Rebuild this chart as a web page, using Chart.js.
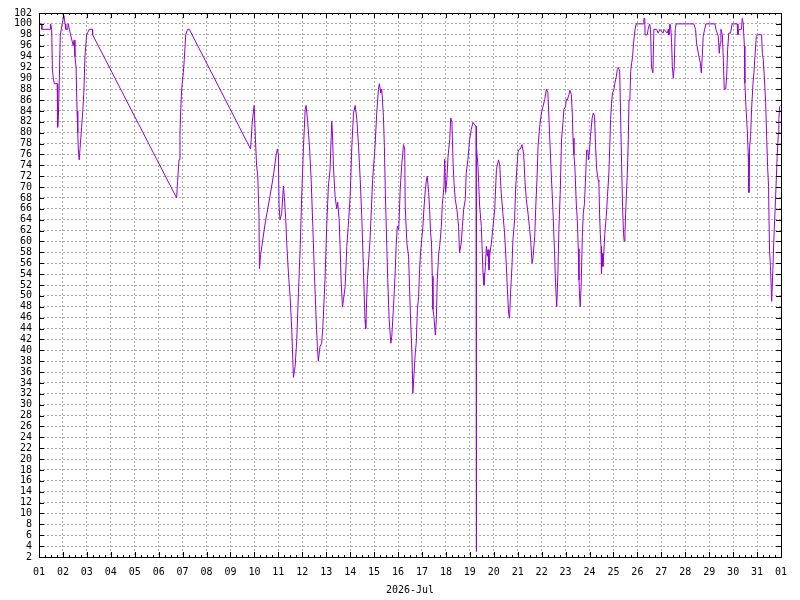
<!DOCTYPE html>
<html>
<head>
<meta charset="utf-8">
<title>2026-Jul</title>
<script src="https://cdn.jsdelivr.net/npm/chart.js@4/dist/chart.umd.min.js"></script>
<style>
  html, body { margin: 0; padding: 0; background: #fff; }
  #chart { display: block; }
</style>
</head>
<body>
<canvas id="chart" width="800" height="600"></canvas>
<script>
// time in days of the month (1 = Jul 01 00:00, 32 = Aug 01 00:00)
const days = [
  1.00, 1.11, 1.12, 1.46, 1.47, 1.50, 1.53, 1.56, 1.60, 1.64, 1.76, 1.78, 1.81, 1.85, 1.89, 1.97,
  2.04, 2.09, 2.12, 2.20, 2.22, 2.27, 2.32, 2.43, 2.47, 2.50, 2.55, 2.59, 2.62, 2.64, 2.68, 2.73,
  2.78, 2.83, 2.88, 2.92, 2.99, 3.10, 3.23, 3.24,
  6.75, 6.79, 6.85, 6.89, 6.92, 6.96, 7.03, 7.07, 7.13, 7.21, 7.28,
  9.84, 9.91, 9.99, 10.04, 10.09, 10.14, 10.19, 10.21,
  10.26, 10.33, 10.45, 10.65, 10.79, 10.91, 10.96, 11.00, 11.03, 11.07, 11.14, 11.21, 11.25, 11.31,
  11.35, 11.42, 11.49, 11.56, 11.63, 11.70, 11.77, 11.84, 11.91, 11.98, 12.05, 12.12, 12.16, 12.23,
  12.30, 12.37, 12.44, 12.51, 12.58, 12.63, 12.67, 12.74, 12.81, 12.86, 12.95, 13.02, 13.09, 13.16,
  13.23, 13.26, 13.30, 13.37, 13.44, 13.48, 13.54, 13.58, 13.62, 13.68, 13.72, 13.79, 13.86, 13.93,
  14.00, 14.07, 14.14, 14.21, 14.28, 14.35, 14.42, 14.49, 14.55, 14.62, 14.65, 14.72, 14.83, 14.94,
  15.04, 15.11, 15.18, 15.22, 15.28, 15.32, 15.39, 15.43, 15.47, 15.53, 15.57, 15.63, 15.70, 15.74,
  15.81, 15.88, 15.92, 15.97, 16.03, 16.09, 16.16, 16.23,
  16.28, 16.30, 16.37, 16.44, 16.48, 16.53, 16.58, 16.62, 16.67, 16.72, 16.76, 16.81, 16.86, 16.90,
  16.94, 17.00, 17.04, 17.08, 17.14, 17.18, 17.22, 17.28, 17.32, 17.36, 17.40, 17.43, 17.46, 17.50,
  17.56, 17.60, 17.64, 17.70, 17.74, 17.81, 17.85, 17.92, 17.95, 17.99, 18.04, 18.09, 18.16, 18.20,
  18.25, 18.30, 18.34, 18.39, 18.46, 18.53, 18.57, 18.64, 18.69, 18.74, 18.81, 18.85, 18.92, 18.99,
  19.06, 19.13, 19.24, 19.26, 19.27, 19.28,
  19.34, 19.41, 19.48, 19.55, 19.59, 19.65, 19.69, 19.73, 19.76, 19.80, 19.83, 19.90, 19.97, 20.04,
  20.11, 20.15, 20.20, 20.25, 20.31, 20.38, 20.45, 20.52, 20.57, 20.62, 20.66, 20.70, 20.76, 20.80,
  20.87, 20.91, 20.97, 21.01, 21.05, 21.11, 21.18, 21.25, 21.30, 21.36, 21.43, 21.50, 21.54, 21.60,
  21.64, 21.71, 21.75, 21.81, 21.85, 21.92, 21.99, 22.06, 22.13, 22.20, 22.26, 22.33, 22.40, 22.47,
  22.54, 22.58, 22.63, 22.68, 22.72, 22.78,
  22.83, 22.89, 22.93, 23.00, 23.03, 23.07, 23.14, 23.18, 23.24, 23.28, 23.31, 23.35, 23.39, 23.45,
  23.49, 23.53, 23.56, 23.58, 23.61, 23.65, 23.70, 23.74, 23.79, 23.84, 23.88, 23.93, 23.96, 24.00,
  24.04, 24.11, 24.16, 24.21, 24.25, 24.30, 24.34, 24.36, 24.39, 24.42, 24.45, 24.48, 24.50, 24.53,
  24.56, 24.60, 24.64, 24.70, 24.75, 24.81, 24.85, 24.88, 24.92, 24.96, 25.02, 25.06, 25.12, 25.16,
  25.20, 25.26, 25.30, 25.34, 25.38, 25.42, 25.45, 25.48, 25.52, 25.58, 25.62, 25.65, 25.69, 25.72,
  25.76, 25.80, 25.84, 25.90, 25.95, 26.25, 26.27, 26.31, 26.32, 26.41, 26.45, 26.51, 26.55, 26.59,
  26.65, 26.69, 26.80, 26.87, 26.94, 27.07, 27.11, 27.25, 27.29, 27.32, 27.36, 27.40, 27.43, 27.46,
  27.50, 27.54, 27.58, 27.62, 28.36, 28.43, 28.47, 28.53, 28.57, 28.63, 28.67, 28.71, 28.75, 28.81,
  28.86, 29.24, 29.28, 29.38, 29.42, 29.46, 29.49, 29.55, 29.60, 29.63, 29.69, 29.73, 29.77, 29.82,
  29.89, 29.96, 30.17, 30.20, 30.24, 30.35, 30.38, 30.42, 30.47, 30.49, 30.55, 30.59, 30.63, 30.66,
  30.69, 30.73, 30.77, 30.83, 30.87, 30.91, 30.97, 31.02, 31.19, 31.22, 31.26, 31.31, 31.36, 31.40,
  31.44, 31.48, 31.52, 31.56, 31.61, 31.66, 31.70, 31.77, 31.84, 31.89, 31.91, 31.94, 31.98
];

const values = [
  100, 100, 99, 99, 100, 100, 99, 91.5, 90, 89, 89, 81, 83, 90, 98, 100,
  101.5, 100, 99, 99, 100, 99, 98, 96, 97, 94, 92, 84, 80, 77, 75, 78,
  81, 84, 88, 94, 98, 99, 99, 98,
  68, 71, 75, 80, 84, 88, 91, 93.5, 98, 99, 99,
  77, 82, 85, 79, 74, 72, 65, 55,
  57.6, 59.7, 63.4, 68.3, 72, 76, 77, 76, 66.5, 64, 65.2, 70.2, 68.3, 64,
  59.7, 54.2, 49.9, 43.8, 35, 37, 42, 50.6, 58.5, 68.9, 77.5, 84.3, 85, 81.8,
  77.5, 71.4, 62.8, 53.6, 45.6, 40.7, 38, 40.7, 41.3, 44.4, 53, 62.8, 70.2, 73.2,
  82.1, 80, 73.9, 68.3, 66, 67.2, 64, 59.1, 53, 48, 49.3, 51.7, 59.1, 63.4,
  68.3, 77.5, 83.6, 85, 82.4, 77.5, 71.4, 64, 55.4, 45.6, 44, 53, 60.3, 71.4,
  77.5, 83.6, 87.9, 89, 87.3, 88, 83, 77.5, 68.9, 59.1, 53, 45.6, 41.3, 42.6,
  48, 54.2, 59.1, 62.8, 62.2, 69.5, 74.4, 77.8,
  77, 66.5, 59.7, 57.3, 51.7, 45, 39.5, 32.1, 35.8, 39.5, 41.3, 47.5, 49.9, 54.8,
  57.9, 60.9, 62.8, 65.9, 69.5, 71.1, 72, 69, 65.9, 61.6, 59.7, 53.6, 47.5, 46.2,
  42.8, 45.6, 53, 57.9, 59.1, 62.8, 66.8, 70.2, 75.1, 69, 71.4, 75.7, 78.7, 82.7,
  82, 74.4, 70.8, 67.7, 65.9, 62.8, 57.9, 59.7, 62.8, 65.9, 67.7, 72.6, 75.1, 78.7,
  80.6, 81.9, 81.2, 81.2, 3, 77.5,
  73.8, 66.5, 62.8, 54.2, 52, 55.4, 59.1, 57.3, 58.5, 54.8, 57.5, 59.7, 62.8, 65.9,
  73.2, 74.1, 75, 74, 69, 65.2, 61.6, 56, 51.1, 46.8, 45.9, 50.5, 55.4, 60.3,
  64, 69.5, 73.8, 76.3, 76.9, 77, 77.8, 76, 71.4, 67.7, 65.2, 62.2, 60.3, 56,
  57, 60.9, 65.9, 72, 77.5, 81.2, 83.6, 84.9, 86.1, 88, 87.4, 80, 72.6, 65.9,
  57.9, 52.4, 48, 54.2, 62.2, 69.5,
  78.7, 81.8, 84.3, 84.8, 86.2, 86, 87, 87.8, 87, 83.6, 79, 75.9, 73.5, 66.7,
  64, 58.7, 52.9, 50.5, 48, 51.7, 60.9, 65.2, 67, 72.2, 76.8, 76.8, 75, 76.8,
  79.3, 82.7, 83.6, 83, 77.8, 73.2, 72, 71.3, 71, 65.2, 61.5, 59.1, 54.1, 57.8,
  55.4, 58.1, 61.5, 64.6, 68.3, 72.6, 78.1, 82.4, 85.4, 87.3, 87.9, 89.1, 90.3, 91.6,
  92, 91.3, 83, 74.4, 66.4, 61.5, 60, 61.5, 66.4, 72.6, 78.7, 86, 86.7, 91.3,
  92.8, 94, 96.5, 98.9, 100, 100, 101, 101, 98, 98, 99, 100, 99, 92,
  91, 99, 99, 98.3, 99, 98.3, 99, 98.3, 99, 98, 100, 99, 96.5, 92.2,
  90, 92, 99, 100, 100, 99, 96.5, 95, 94, 92.8, 91, 94, 97.7, 99,
  100, 100, 99, 97.7, 94.6, 96.5, 99, 98, 92.2, 88, 88, 90.3, 95.3, 98.3,
  98.3, 100, 100, 98, 99, 99, 101, 100.2, 95.9, 89.1, 83.6, 80.5, 76.2, 69,
  77.5, 79.3, 84.2, 89.1, 91, 94, 97.7, 98, 98, 94.6, 93.4, 89.7, 85.4, 79.3,
  73.8, 70.1, 58.4, 55.4, 49, 54.8, 60.3, 67.6, 75.6, 79.9, 82.4, 84.8, 85
];

const dayLabels = ['01','02','03','04','05','06','07','08','09','10','11','12','13','14','15','16',
  '17','18','19','20','21','22','23','24','25','26','27','28','29','30','31','01'];
const monthLabel = '2026-Jul';

const font = { family: '"DejaVu Sans Mono", monospace', size: 10 };

// frame and small inside ticks, placed through the scales
const frameTicks = {
  id: 'frameTicks',
  afterDatasetsDraw(chart) {
    const { ctx, chartArea: a, scales: { x, y } } = chart;
    ctx.save();
    ctx.strokeStyle = '#000';
    ctx.lineWidth = 1;
    ctx.beginPath();
    for (let v = 2; v <= 102; v += 2) {
      const py = Math.round(y.getPixelForValue(v)) + 0.5;
      ctx.moveTo(a.left, py); ctx.lineTo(a.left + 5, py);
      ctx.moveTo(a.right - 5, py); ctx.lineTo(a.right, py);
    }
    for (let q = 4; q <= 128; q++) {
      const px = Math.round(x.getPixelForValue(q / 4)) + 0.5;
      const len = q % 4 === 0 ? 5 : 2;
      ctx.moveTo(px, a.bottom); ctx.lineTo(px, a.bottom - len);
      ctx.moveTo(px, a.top); ctx.lineTo(px, a.top + len);
    }
    ctx.stroke();
    ctx.strokeRect(Math.round(a.left) + 0.5, Math.round(a.top) + 0.5,
      Math.round(a.right - a.left), Math.round(a.bottom - a.top));
    ctx.restore();
  }
};

const ctx = document.getElementById('chart').getContext('2d');
new Chart(ctx, {
  type: 'line',
  data: {
    datasets: [{
      data: days.map((d, i) => ({ x: d, y: values[i] })),
      borderColor: '#9400d3',
      borderWidth: 1,
      pointRadius: 0,
      tension: 0,
      fill: false
    }]
  },
  options: {
    responsive: false,
    animation: false,
    devicePixelRatio: 1,
    layout: { padding: { left: 0, top: 13, right: 19, bottom: 0 } },
    plugins: { legend: { display: false }, tooltip: { enabled: false } },
    scales: {
      x: {
        type: 'linear',
        min: 1,
        max: 32,
        afterFit(s) { s.height = 43; },
        afterBuildTicks(s) { s.ticks = dayLabels.map((_, i) => ({ value: i + 1 })); },
        ticks: {
          autoSkip: false,
          maxRotation: 0,
          padding: 9,
          color: '#000',
          font: font,
          callback: (v) => dayLabels[Math.round(v) - 1]
        },
        grid: { color: '#a8a8a8', lineWidth: 1, drawTicks: false },
        border: { display: false, dash: [2, 2] },
        title: { display: true, text: monthLabel, color: '#000', font: font, padding: { top: 0, bottom: 4 } }
      },
      y: {
        min: 2,
        max: 102,
        afterFit(s) { s.width = 39; },
        ticks: { stepSize: 2, autoSkip: false, padding: 7, color: '#000', font: font },
        grid: { color: '#a8a8a8', lineWidth: 1, drawTicks: false },
        border: { display: false, dash: [2, 2] }
      }
    }
  },
  plugins: [frameTicks]
});
</script>
</body>
</html>
